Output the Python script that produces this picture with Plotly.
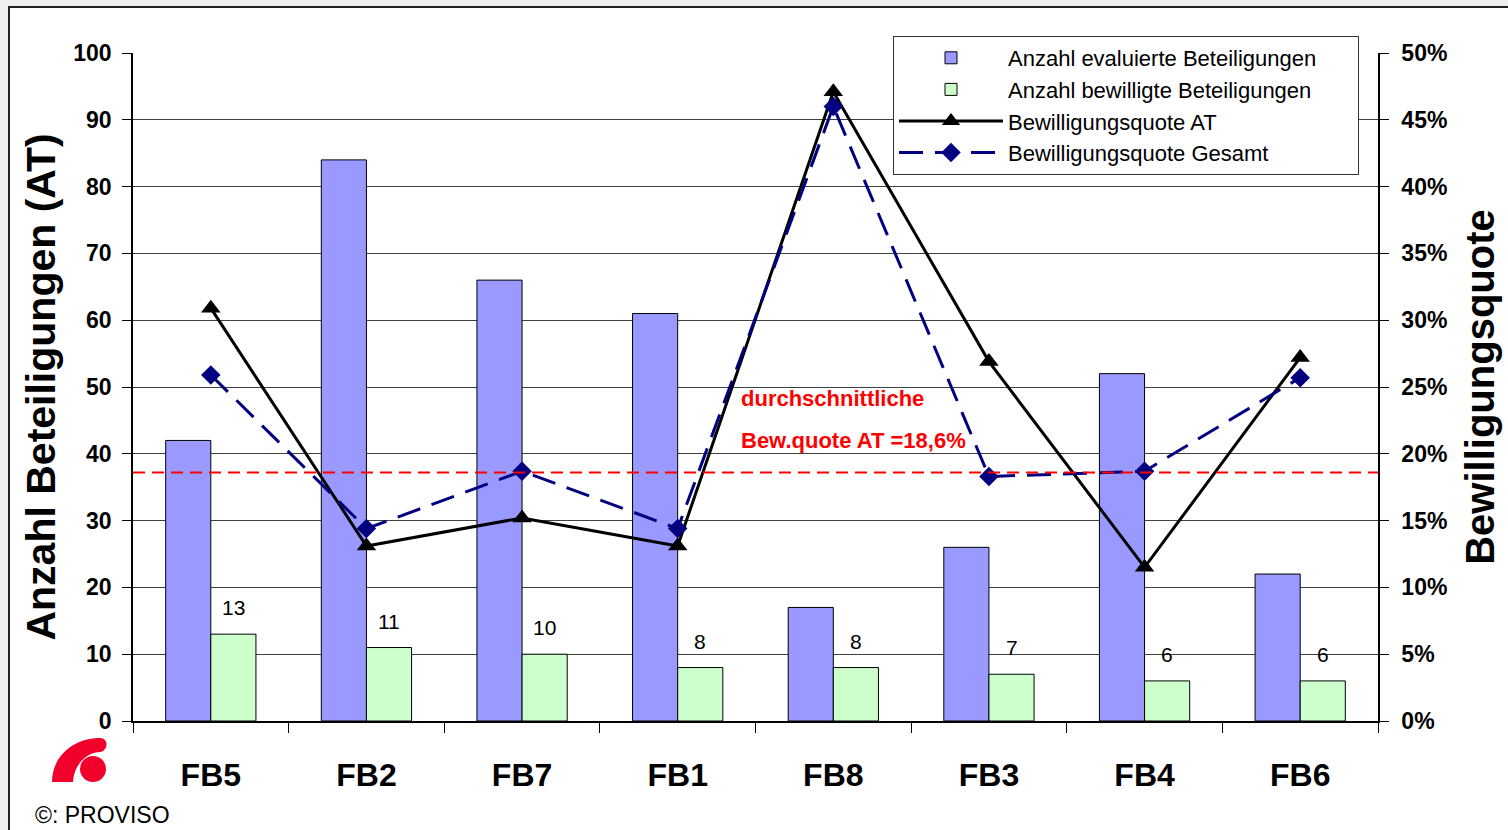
import plotly.graph_objects as go

categories = ["FB5", "FB2", "FB7", "FB1", "FB8", "FB3", "FB4", "FB6"]
evaluated = [42, 84, 66, 61, 17, 26, 52, 22]
approved = [13, 11, 10, 8, 8, 7, 6, 6]
quote_at = [0.309, 0.131, 0.152, 0.131, 0.471, 0.269, 0.115, 0.272]
quote_total = [0.259, 0.144, 0.187, 0.144, 0.460, 0.183, 0.187, 0.257]
avg_quote = 0.186
avg_label = ["durchschnittliche", "Bew.quote AT =18,6%"]
series_names = ["Anzahl evaluierte Beteiligungen", "Anzahl bewilligte Beteiligungen",
                "Bewilligungsquote AT", "Bewilligungsquote Gesamt"]

FONT = "Liberation Sans, Arial, sans-serif"
W, H = 1508, 830
L, R, T, B = 133, 1378, 53, 721


def px(x):
    return (x - L) / (R - L)


def py(y):
    return (B - y) / (B - T)


fig = go.Figure()
fig.add_trace(go.Bar(
    x=categories, y=evaluated, name=series_names[0] + "\u00a0" * 6,
    marker=dict(color="#9999ff", line=dict(color="black", width=1)),
    width=0.29, offset=-0.29))
fig.add_trace(go.Bar(
    x=categories, y=approved, name=series_names[1],
    marker=dict(color="#ccffcc", line=dict(color="black", width=1)),
    width=0.29, offset=0))
fig.add_trace(go.Scatter(
    x=categories, y=quote_at, yaxis="y2", mode="lines+markers",
    name=series_names[2],
    line=dict(color="black", width=3),
    marker=dict(symbol="triangle-up", size=17, color="black")))
fig.add_trace(go.Scatter(
    x=categories, y=quote_total, yaxis="y2", mode="lines+markers",
    name=series_names[3],
    line=dict(color="#000080", width=3, dash="24px,12px"),
    marker=dict(symbol="diamond", size=15, color="#000080")))

annotations = []
for i, v in enumerate(approved):
    annotations.append(dict(
        x=i + 0.145, y=v, xref="x", yref="y", text=str(v), showarrow=False,
        yanchor="bottom", yshift=13, font=dict(family=FONT, size=21, color="black")))

annotations.append(dict(x=px(739), y=py(398), xref="paper", yref="paper", text=avg_label[0],
                        showarrow=False, xanchor="left", yanchor="middle",
                        font=dict(family=FONT, size=22, color="red", weight="bold")))
annotations.append(dict(x=px(739), y=py(440), xref="paper", yref="paper", text=avg_label[1],
                        showarrow=False, xanchor="left", yanchor="middle",
                        font=dict(family=FONT, size=22, color="red", weight="bold")))
annotations.append(dict(x=px(33), y=py(815), xref="paper", yref="paper", text="©: PROVISO",
                        showarrow=False, xanchor="left", yanchor="middle",
                        font=dict(family=FONT, size=23, color="black")))


def pth(points):
    s = ""
    for cmd, coords in points:
        s += cmd + " " + " ".join(f"{px(a):.5f},{py(b):.5f}" for a, b in coords) + " "
    return s + "Z"


logo_path = pth([
    ("M", [(52, 782)]),
    ("C", [(52, 756), (74, 738), (100, 738)]),
    ("C", [(108, 738), (109, 749), (101, 752)]),
    ("C", [(86, 752), (74, 765), (73, 782)]),
])

shapes = [
    dict(type="rect", xref="paper", yref="paper", x0=px(9), x1=px(1540), y0=py(7), y1=py(860),
         fillcolor="white", line=dict(color="#222222", width=2), layer="below"),
    dict(type="line", xref="paper", yref="y2", x0=0, x1=1, y0=avg_quote, y1=avg_quote,
         line=dict(color="red", width=2, dash="12px,7px"), layer="above"),
    dict(type="circle", xref="paper", yref="paper", x0=px(80), x1=px(106), y0=py(782), y1=py(756),
         fillcolor="#f0002a", line=dict(width=0)),
    dict(type="path", xref="paper", yref="paper", path=logo_path,
         fillcolor="#f0002a", line=dict(width=0)),
]

fig.update_layout(
    width=W, height=H,
    margin=dict(l=L, r=W - R, t=T, b=H - B, pad=0),
    paper_bgcolor="#f0f0f0", plot_bgcolor="white",
    barmode="overlay",
    font=dict(family=FONT, color="black"),
    showlegend=True,
    legend=dict(x=px(893), y=py(36), xanchor="left", yanchor="top",
                bgcolor="white", bordercolor="#333333", borderwidth=1,
                font=dict(family=FONT, size=22, color="black"), tracegroupgap=0,
                itemwidth=104),
    xaxis=dict(type="category", categoryorder="array", categoryarray=categories,
               tickson="boundaries", ticks="outside", ticklen=10, tickcolor="black",
               showline=True, linecolor="black", linewidth=1.5, showgrid=False,
               tickfont=dict(family=FONT, size=32, color="black", weight="bold"),
               ticklabelstandoff=25, range=[-0.5, 7.5]),
    yaxis=dict(range=[0, 100], dtick=10, showgrid=True, gridcolor="#404040", gridwidth=1,
               showline=True, linecolor="black", linewidth=1.5, ticks="outside", ticklen=9,
               tickcolor="black", zeroline=False,
               tickfont=dict(family=FONT, size=23, color="black", weight="bold"),
               ticklabelstandoff=6,
               title=dict(text="Anzahl Beteiligungen (AT)", standoff=5,
                          font=dict(family=FONT, size=41, color="black", weight="bold"))),
    yaxis2=dict(range=[0, 0.5], dtick=0.05, tickformat=".0%", overlaying="y", side="right",
                showgrid=False, showline=True, linecolor="black", linewidth=1.5,
                ticks="outside", ticklen=9, tickcolor="black", zeroline=False,
                tickfont=dict(family=FONT, size=23, color="black", weight="bold"),
                ticklabelstandoff=8,
                title=dict(text="Bewilligungsquote", standoff=20,
                           font=dict(family=FONT, size=40, color="black", weight="bold"))),
    annotations=annotations,
    shapes=shapes,
)

fig.write_html(
    "out.html",
    config={"displayModeBar": False},
    post_script="document.body.style.margin='0';document.body.style.overflow='hidden';",
)
